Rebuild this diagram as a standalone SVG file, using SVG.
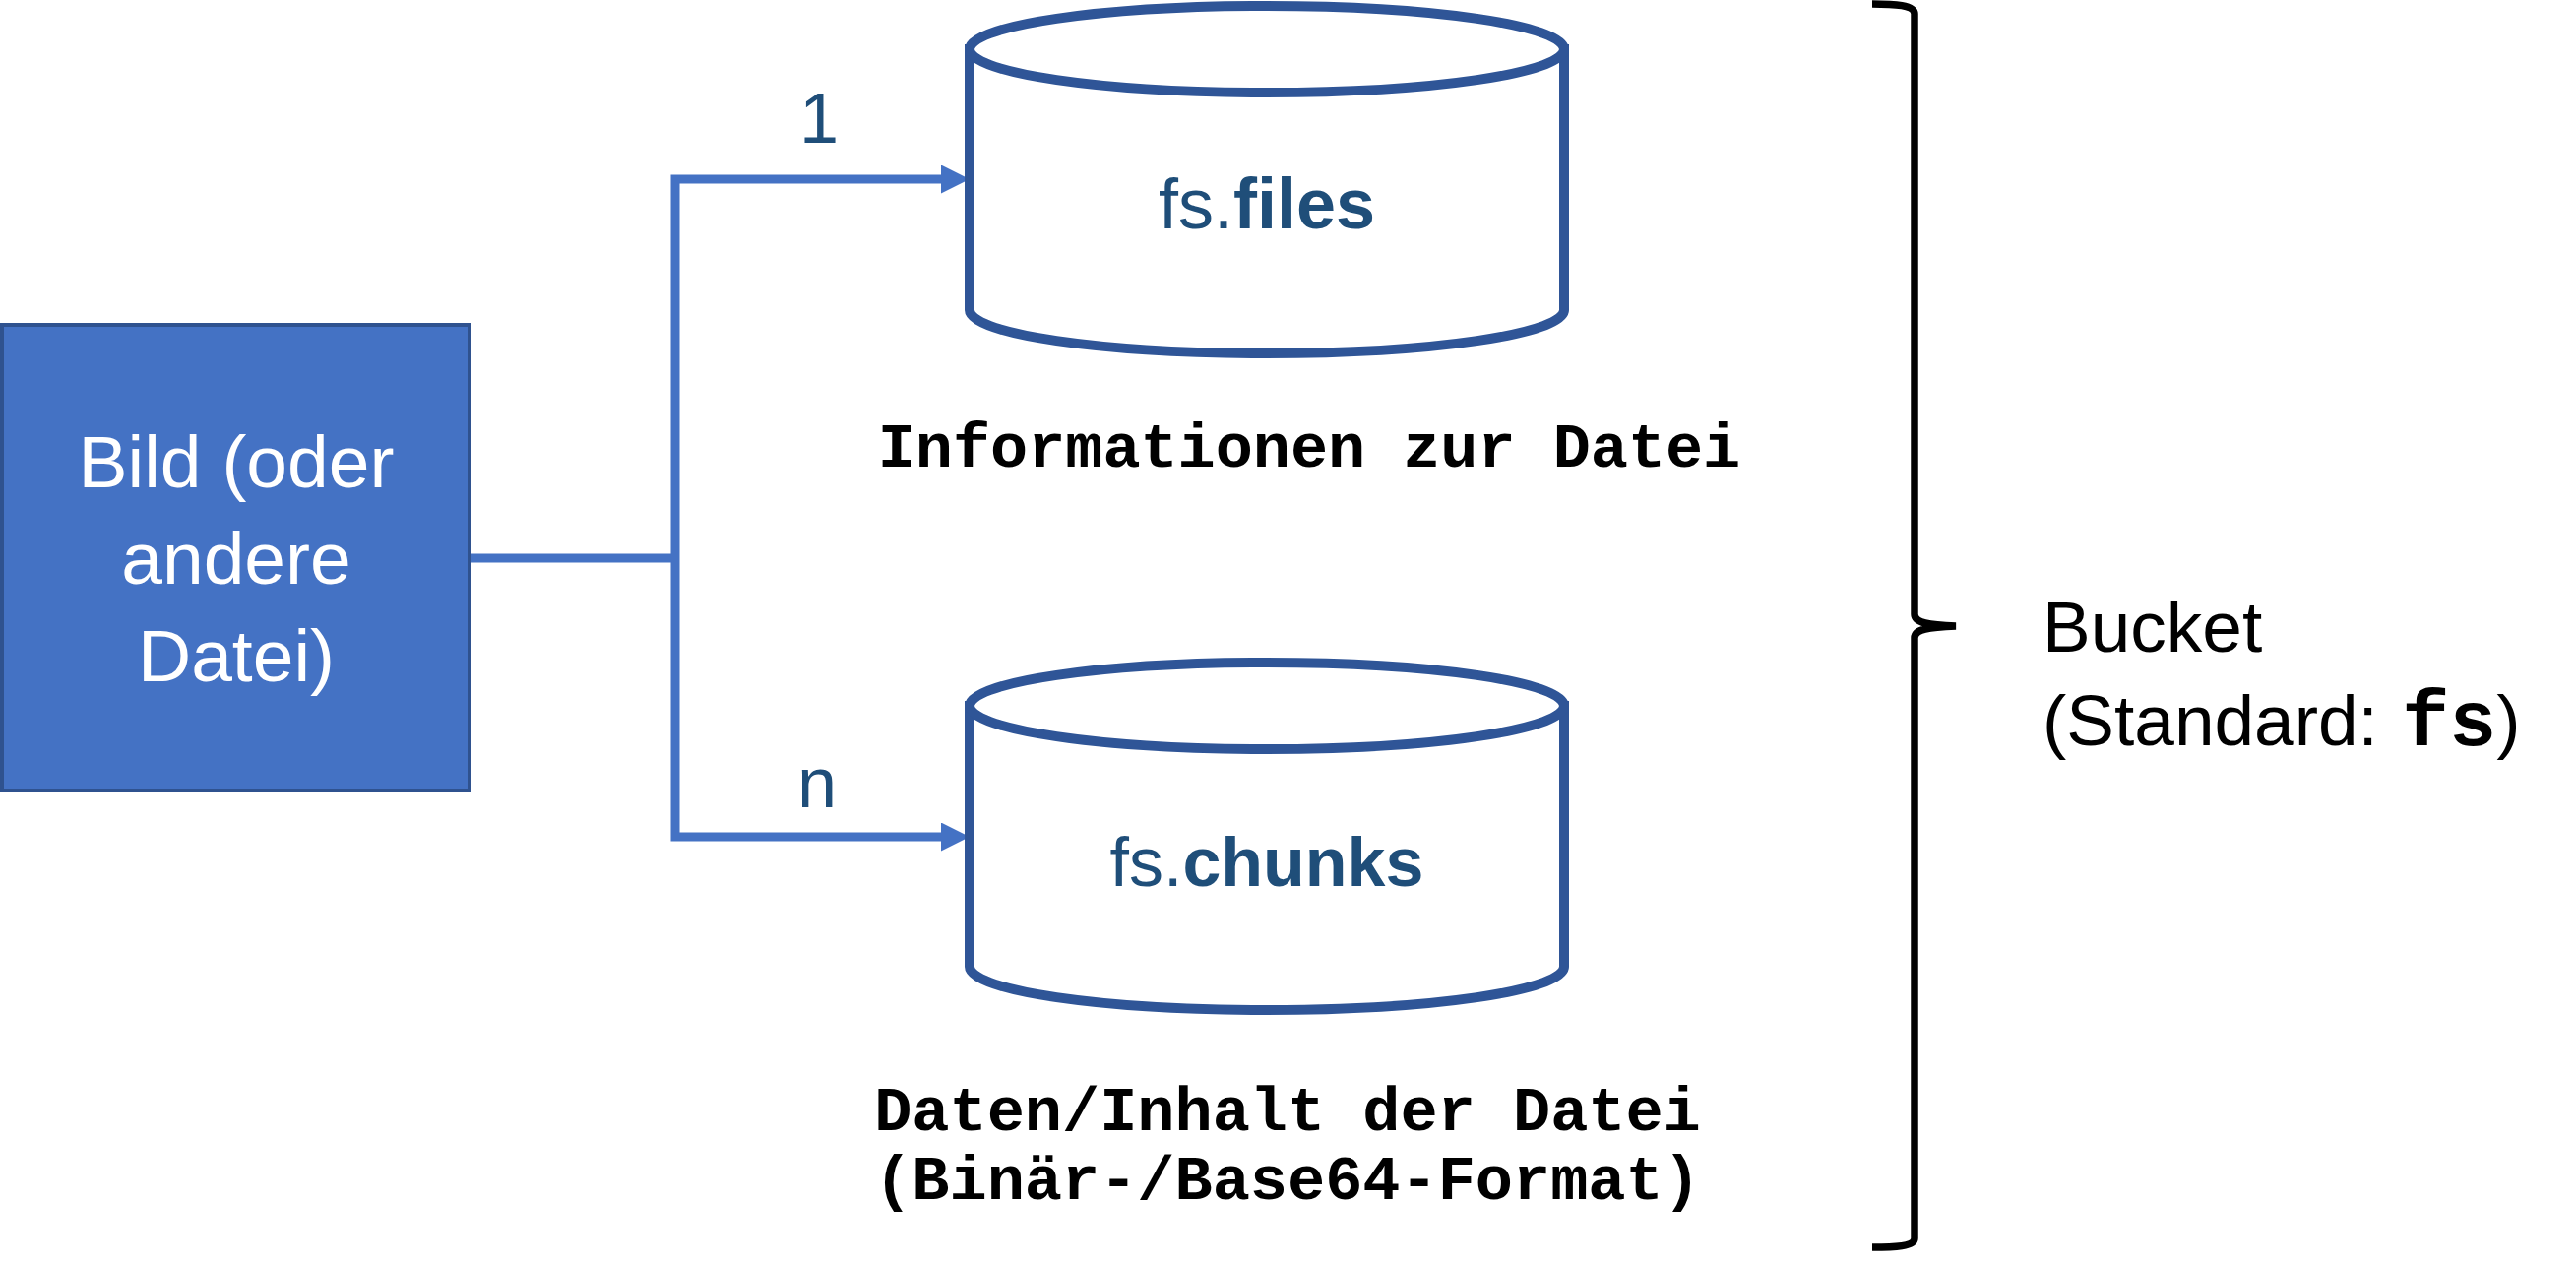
<svg xmlns="http://www.w3.org/2000/svg" width="2617" height="1287" viewBox="0 0 2617 1287">
<defs>
<style>
.sans{font-family:"Liberation Sans",Arial,sans-serif}
.mono{font-family:"Liberation Mono","Courier New",monospace;font-weight:bold}
.cyl{fill:#FFFFFF;stroke:#2F5597;stroke-width:10}
.lbl{fill:#1F4E79}
.conn{fill:none;stroke:#4472C4;stroke-width:9;stroke-linejoin:miter}
</style>
<marker id="arr" markerUnits="userSpaceOnUse" markerWidth="30" markerHeight="30" refX="2" refY="14.5" orient="auto">
<path d="M0,0 L29,14.5 L0,29 Z" fill="#4472C4"/>
</marker>
</defs>
<rect width="2617" height="1287" fill="#FFFFFF"/>

<g id="connectors">
<path class="conn" d="M477,567 H686"/>
<path class="conn" d="M686,567 V182 H958" marker-end="url(#arr)"/>
<path class="conn" d="M686,567 V850 H958" marker-end="url(#arr)"/>
<text class="sans lbl" x="832" y="145" font-size="72" text-anchor="middle">1</text>
<text class="sans lbl" x="830" y="820" font-size="72" text-anchor="middle">n</text>
</g>

<g id="source">
<rect x="2" y="330" width="475" height="473" fill="#4472C4" stroke="#2F528F" stroke-width="4"/>
<text class="sans" fill="#FFFFFF" font-size="75" text-anchor="middle"><tspan x="240" y="495">Bild (oder</tspan><tspan x="240" y="593">andere</tspan><tspan x="240" y="692">Datei)</tspan></text>
</g>

<g id="fs-files">
<path class="cyl" d="M985,50 V315 A302,44 0 0 0 1589,315 V50 Z"/>
<ellipse class="cyl" cx="1287" cy="50" rx="302" ry="44"/>
<text class="sans lbl" x="1287" y="232" font-size="72" text-anchor="middle">fs.<tspan font-weight="bold">files</tspan></text>
</g>
<text class="mono" x="1330" y="474" font-size="63.5" text-anchor="middle">Informationen zur Datei</text>

<g id="fs-chunks">
<path class="cyl" d="M985,717 V982 A302,44 0 0 0 1589,982 V717 Z"/>
<ellipse class="cyl" cx="1287" cy="717" rx="302" ry="44"/>
<text class="sans lbl" x="1287" y="900" font-size="70" text-anchor="middle">fs.<tspan font-weight="bold">chunks</tspan></text>
</g>
<text class="mono" font-size="63.6" text-anchor="middle"><tspan x="1308" y="1148">Daten/Inhalt der Datei</tspan><tspan x="1308" y="1218">(Binär-/Base64-Format)</tspan></text>

<g id="bucket">
<path d="M1902,4 C1925,4 1945,5 1945,14 L1945,624 C1945,633 1960,635 1987,636 C1960,637 1945,639 1945,648 L1945,1258 C1945,1266 1925,1267 1902,1267" fill="none" stroke="#000000" stroke-width="7.5"/>
<text class="sans" x="2075" y="662" font-size="73">Bucket</text>
<text class="sans" x="2075" y="757" font-size="73">(Standard: <tspan class="mono" font-size="80" dx="4">fs</tspan>)</text>
</g>
</svg>
